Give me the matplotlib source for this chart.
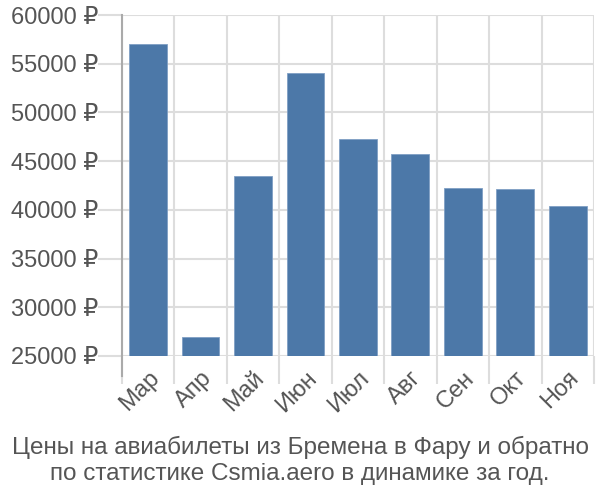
import matplotlib
matplotlib.use("Agg")
import matplotlib.pyplot as plt
import numpy as np

months = ["Мар", "Апр", "Май", "Июн", "Июл", "Авг", "Сен", "Окт", "Ноя"]
prices = [57000, 27000, 43500, 54000, 47300, 45700, 42200, 42100, 40400]
yticks = [25000, 30000, 35000, 40000, 45000, 50000, 55000, 60000]

plt.rcParams["font.family"] = ["Liberation Sans", "DejaVu Sans"]

fig = plt.figure(figsize=(6, 5), dpi=100)
ax = fig.add_axes([0.203, 0.288, 0.787, 0.682])

x = np.arange(len(months))
ax.bar(x, prices, width=0.72, color="#4c78a8", edgecolor="#7f9fc4", linewidth=0.6, zorder=3)

ax.set_xlim(-0.5, len(months) - 0.5)
ax.set_ylim(25000, 60000)

# gridlines on category boundaries, long ticks below the axis
ax.set_xticks(np.arange(len(months) + 1) - 0.5, minor=False)
ax.set_xticklabels([])
ax.tick_params(axis="x", which="major", length=20, color="#dddddd", width=1.5)
ax.set_xticks(x, minor=True)
ax.set_xticklabels(months, minor=True, rotation=45, ha="right", rotation_mode="anchor",
                   fontsize=17, color="#555555")
ax.tick_params(axis="x", which="minor", length=0, pad=8)

ax.set_yticks(yticks)
ax.set_yticklabels([f"{v} ₽" for v in yticks], fontsize=17, color="#555555")
ax.tick_params(axis="y", length=17, color="#dddddd", width=1.5, pad=0)

ax.grid(True, color="#dddddd", linewidth=1.5, zorder=0)
for s in ["top", "right", "bottom"]:
    ax.spines[s].set_visible(False)
ax.spines["left"].set_color("#aaaaaa")
ax.spines["left"].set_linewidth(1.5)
ax.spines["left"].set_bounds(25000 - 2050, 60000)

fig.text(0.5, 0.079, "Цены на авиабилеты из Бремена в Фару и обратно\nпо статистике Csmia.aero в динамике за год.",
         ha="center", va="center", fontsize=17.5, color="#555555", linespacing=1.25)

fig.savefig("out.png", dpi=100)
